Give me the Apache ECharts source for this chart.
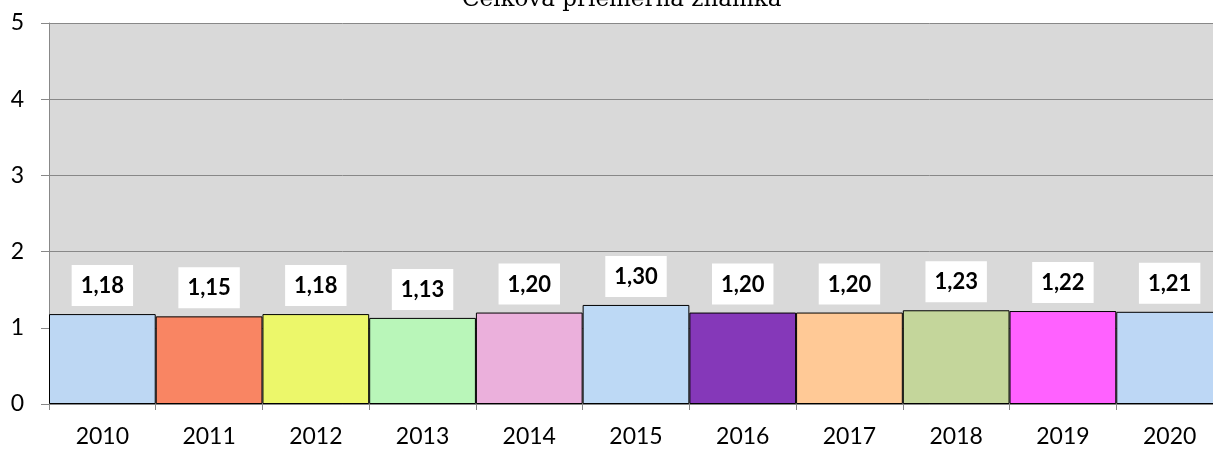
<!DOCTYPE html>
<html>
<head>
<meta charset="utf-8">
<script src="https://cdn.jsdelivr.net/npm/echarts@6/dist/echarts.min.js"></script>
<style>
  html, body { margin: 0; padding: 0; background: #fff; overflow: hidden; }
  #chart { width: 1223px; height: 450px; }
</style>
</head>
<body>
<div id="chart"></div>
<script>
const titleText = 'Celková priemerná známka';
const years = ['2010', '2011', '2012', '2013', '2014', '2015', '2016', '2017', '2018', '2019', '2020'];
const averages = [1.18, 1.15, 1.18, 1.13, 1.20, 1.30, 1.20, 1.20, 1.23, 1.22, 1.21];
const barColors = ['#bdd7f3', '#f98563', '#ecf76a', '#b9f6b9', '#ebb0dc', '#bdd9f5', '#8538b9', '#ffc996', '#c4d69b', '#ff61ff', '#bdd7f5'];
const yTicks = [0, 1, 2, 3, 4, 5];

const chart = echarts.init(document.getElementById('chart'), null, { renderer: 'canvas' });
chart.setOption({
  animation: false,
  backgroundColor: '#ffffff',
  title: {
    text: titleText,
    left: 462,
    top: -11,
    padding: 0,
    textStyle: { fontFamily: 'DejaVu Serif', fontSize: 23, fontWeight: 'normal', color: '#000' }
  },
  grid: {
    left: 49, top: 23, right: 0, bottom: 46,
    show: true, backgroundColor: '#d9d9d9', borderWidth: 0
  },
  xAxis: {
    type: 'category',
    data: years,
    boundaryGap: true,
    axisLine: { show: true, lineStyle: { color: '#888888', width: 1 } },
    axisTick: { show: true, length: 6, lineStyle: { color: '#888888' } },
    axisLabel: { fontFamily: 'Lato', fontSize: 23, color: '#000', margin: 21 },
    splitLine: { show: false }
  },
  yAxis: {
    type: 'value',
    min: yTicks[0],
    max: yTicks[yTicks.length - 1],
    interval: 1,
    axisLine: { show: true, lineStyle: { color: '#888888', width: 1 } },
    axisTick: { show: true, length: 8, lineStyle: { color: '#888888' } },
    axisLabel: { fontFamily: 'Lato', fontSize: 23, color: '#000', margin: 25 },
    splitLine: { show: true, lineStyle: { color: '#888888', width: 1 } }
  },
  series: [{
    type: 'bar',
    data: averages.map((v, i) => ({ value: v, itemStyle: { color: barColors[i] } })),
    barCategoryGap: 0,
    barGap: 0,
    itemStyle: { borderColor: '#000', borderWidth: 1 },
    label: {
      show: true,
      position: 'top',
      distance: 8,
      formatter: p => p.value.toFixed(2).replace('.', ','),
      fontFamily: 'Lato',
      fontWeight: 'bold',
      fontSize: 22,
      color: '#000',
      backgroundColor: '#ffffff',
      padding: [9, 9, 8, 9],
      lineHeight: 24
    }
  }]
});
</script>
</body>
</html>
